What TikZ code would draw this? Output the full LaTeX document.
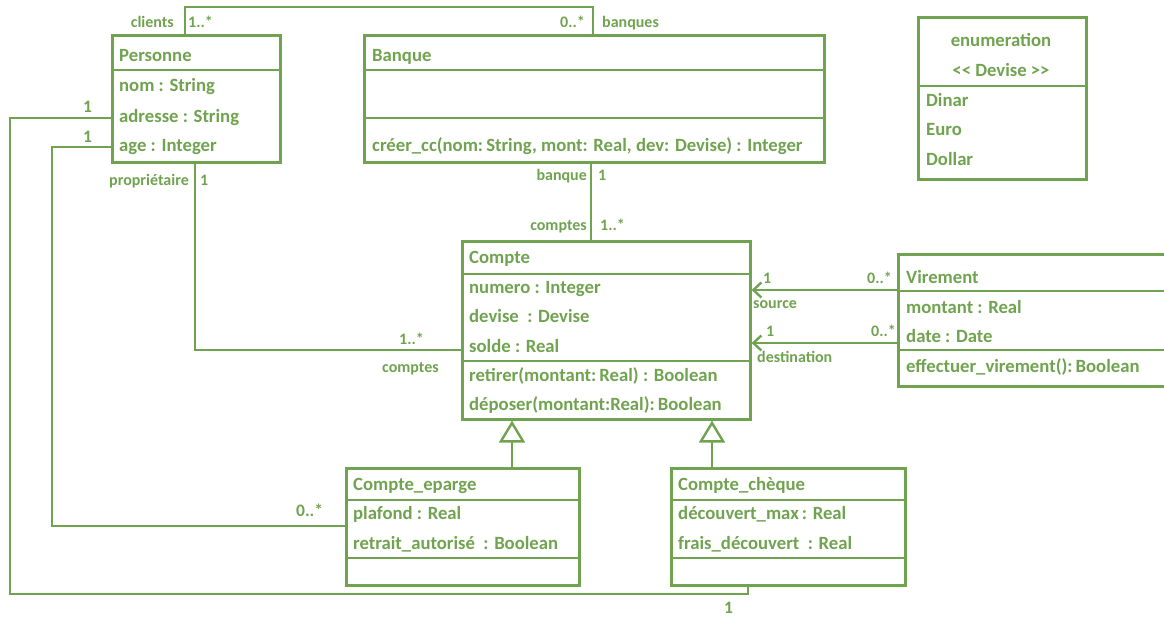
\documentclass[tikz,border=0pt]{standalone}
\usepackage{fontspec}
\setmainfont{Carlito}
\usetikzlibrary{arrows.meta,calc}
\definecolor{uml}{RGB}{112,163,80}
\tikzset{
  box/.style={draw=uml, line width=2.6pt, rectangle, inner sep=0pt, anchor=north west},
  txt/.style={anchor=base west, inner sep=0pt, text=uml, font=\fontsize{18.7}{20}\selectfont\bfseries},
  lbl/.style={anchor=base west, inner sep=0pt, text=uml, font=\fontsize{16}{18}\selectfont\bfseries},
  lblr/.style={lbl, anchor=base east},
  lblc/.style={lbl, anchor=base},
  link/.style={draw=uml, line width=2.6pt},
  nav/.style={link, -{Straight Barb[length=8pt,width=15pt,line width=2.4pt]}},
  gen/.style={link, -{Triangle[open,length=22pt,width=26pt,line width=2.4pt]}},
  sep/.style={draw=uml, line width=2.4pt}
}
\begin{document}
\begin{tikzpicture}[x=1pt,y=-1pt]
\useasboundingbox (0,0) rectangle (1164,618);
% classes
\node[box, minimum width=168pt, minimum height=127pt] (pers) at (111,34) {};
\node[box, minimum width=460pt, minimum height=127pt] (banque) at (363,34) {};
\node[box, minimum width=168pt, minimum height=162pt] (enum) at (917,16) {};
\node[box, minimum width=288pt, minimum height=178pt] (compte) at (461,240) {};
\node[box, minimum width=290pt, minimum height=132pt] (vir) at (897,253) {};
\node[box, minimum width=233pt, minimum height=117pt] (ce) at (345,467) {};
\node[box, minimum width=234pt, minimum height=117pt] (cc) at (670,467) {};
% dividers
\draw[sep] ([yshift=-36pt]pers.north west) -- ([yshift=-36pt]pers.north east);
\draw[sep] ([yshift=-36pt]banque.north west) -- ([yshift=-36pt]banque.north east);
\draw[sep] ([yshift=-84pt]banque.north west) -- ([yshift=-84pt]banque.north east);
\draw[sep] ([yshift=-70pt]enum.north west) -- ([yshift=-70pt]enum.north east);
\draw[sep] ([yshift=-34pt]compte.north west) -- ([yshift=-34pt]compte.north east);
\draw[sep] ([yshift=-121pt]compte.north west) -- ([yshift=-121pt]compte.north east);
\draw[sep] ([yshift=-38pt]vir.north west) -- ([yshift=-38pt]vir.north east);
\draw[sep] ([yshift=-97pt]vir.north west) -- ([yshift=-97pt]vir.north east);
\draw[sep] ([yshift=-33pt]ce.north west) -- ([yshift=-33pt]ce.north east);
\draw[sep] ([yshift=-91pt]ce.north west) -- ([yshift=-91pt]ce.north east);
\draw[sep] ([yshift=-33pt]cc.north west) -- ([yshift=-33pt]cc.north east);
\draw[sep] ([yshift=-91pt]cc.north west) -- ([yshift=-91pt]cc.north east);
% Personne
\node[txt] (p0) at (119,62) {Personne};
\node[txt] (p1) at (119,92) {nom : String};
\node[txt] (p2) at (119,122) {adresse : String};
\node[txt] (p3) at (119,151) {age : Integer};
% Banque
\node[txt] (b0) at (372,62) {Banque};
\node[txt] (b1) at (372,151) {créer\_cc(nom:\,String, mont: Real, dev: Devise) : Integer};
% Enum
\node[txt, anchor=base] (e0) at (1001,47) {enumeration};
\node[txt, anchor=base] (e1) at (1001,76) {{<}{<} Devise {>}{>}};
\node[txt] (e2) at (926,106) {Dinar};
\node[txt] (e3) at (926,135) {Euro};
\node[txt] (e4) at (926,165) {Dollar};
% Compte
\node[txt] (c0) at (469,263) {Compte};
\node[txt] (c1) at (469,293) {numero : Integer};
\node[txt] (c2) at (469,322) {devise \ : Devise};
\node[txt] (c3) at (469,352) {solde : Real};
\node[txt] (c4) at (469,381) {retirer(montant:\,Real) : Boolean};
\node[txt] (c5) at (469,410) {déposer(montant:Real):\,Boolean};
% Virement
\node[txt] (v0) at (906,283) {Virement};
\node[txt] (v1) at (906,313) {montant : Real};
\node[txt] (v2) at (906,342) {date : Date};
\node[txt] (v3) at (906,372) {effectuer\_virement():\,Boolean};
% Compte_eparge
\node[txt] (ce0) at (353,490) {Compte\_eparge};
\node[txt] (ce1) at (353,519) {plafond : Real};
\node[txt] (ce2) at (353,549) {retrait\_autorisé \ : Boolean};
% Compte_cheque
\node[txt] (cc0) at (678,490) {Compte\_chèque};
\node[txt] (cc1) at (678,519) {découvert\_max\,: Real};
\node[txt] (cc2) at (678,549) {frais\_découvert \ : Real};
% associations
\draw[link] ([xshift=74pt]pers.north west) -- ++(0,-27) -| ([xshift=230pt]banque.north west);
\draw[link] ([xshift=228pt]banque.south west) -- ([xshift=130pt]compte.north west);
\draw[link] ([xshift=84pt]pers.south west) |- ([yshift=-110pt]compte.north west);
\coordinate (vs) at ([yshift=-37pt]vir.north west);
\coordinate (vd) at ([yshift=-90pt]vir.north west);
\draw[nav] (vs) -- (vs -| compte.east);
\draw[nav] (vd) -- (vd -| compte.east);
\draw[gen] ([xshift=167pt]ce.north west) -- ([xshift=51pt]compte.south west);
\draw[gen] ([xshift=42pt]cc.north west) -- ([xshift=251pt]compte.south west);
\draw[link] ([yshift=-84pt]pers.north west) -- ++(-101,0) -- ++(0,476) -| ([xshift=78pt]cc.south west);
\draw[link] ([yshift=-113pt]pers.north west) -- ++(-59,0) |- ([yshift=-59pt]ce.north west);
% labels
\node[lblr] (l1) at (174,28) {clients};
\node[lbl] (l2) at (188,28) {1..*};
\node[lblr] (l3) at (585,28) {0..*};
\node[lbl] (l4) at (602,28) {banques};
\node[lblr] (l5) at (189,185) {propriétaire};
\node[lbl] (l6) at (200,185) {1};
\node[lblr] (l7) at (587,180) {banque};
\node[lbl] (l8) at (598,180) {1};
\node[lblr] (l9) at (587,230) {comptes};
\node[lbl] (l10) at (600,230) {1..*};
\node[lbl] (l11) at (399,344) {1..*};
\node[lbl] (l12) at (382,372) {comptes};
\node[lbl] (l13) at (763,283) {1};
\node[lblr] (l14) at (892,283) {0..*};
\node[lbl] (l15) at (753,308) {source};
\node[lbl] (l16) at (766,336) {1};
\node[lblr] (l17) at (896,336) {0..*};
\node[lbl] (l18) at (757,362) {destination};
\node[lbl, font=\fontsize{17.5}{18}\selectfont\bfseries] (l19) at (83,112) {1};
\node[lbl, font=\fontsize{17.5}{18}\selectfont\bfseries] (l20) at (83,142) {1};
\node[lbl, font=\fontsize{17.5}{18}\selectfont\bfseries] (l21) at (296,516) {0..*};
\node[lbl, font=\fontsize{17.5}{18}\selectfont\bfseries] (l22) at (724,613) {1};
\end{tikzpicture}
\end{document}
